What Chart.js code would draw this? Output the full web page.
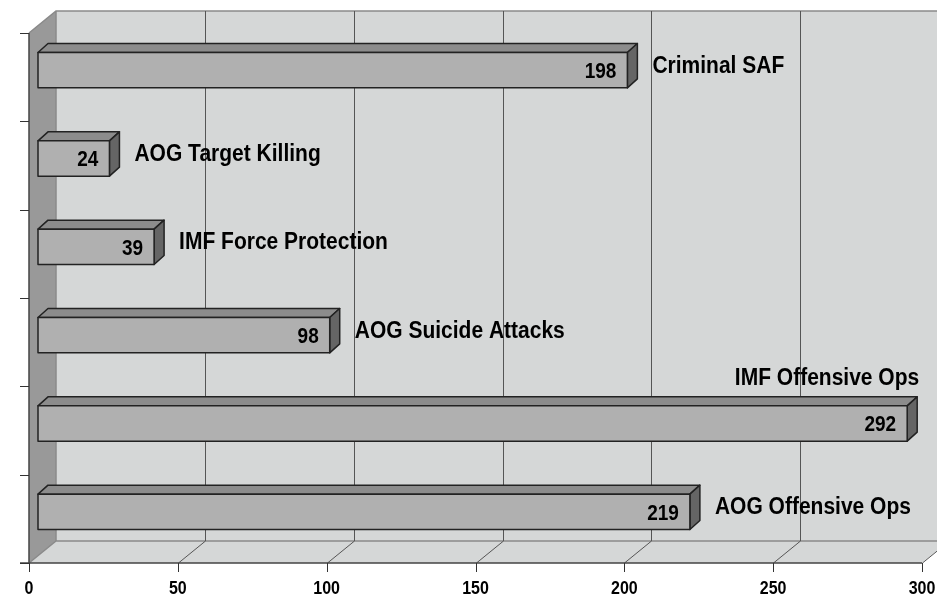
<!DOCTYPE html>
<html>
<head>
<meta charset="utf-8">
<script src="https://cdn.jsdelivr.net/npm/chart.js@4"></script>
<style>
  html, body { margin: 0; padding: 0; background: #fff; }
  canvas { display: block; }
</style>
</head>
<body>
<canvas id="grafico" width="937" height="599"></canvas>
<script>
const categorias = ['Criminal SAF', 'AOG Target Killing', 'IMF Force Protection', 'AOG Suicide Attacks', 'IMF Offensive Ops', 'AOG Offensive Ops'];
const valores = [198, 24, 39, 98, 292, 219];
const ticksX = [0, 50, 100, 150, 200, 250, 300];

// profundidad del "3D"
const DX = 27, DY = -22;      // pared del fondo
const BX = 9, BY = -7;        // cara frontal de la barra
const TX = 10, TY = -9;       // grosor de la barra

const fuente = '"Liberation Sans", Arial, sans-serif';

// texto un poco estirado en vertical, como en el original
function texto(c, s, x, y) {
  c.save();
  c.translate(x, y);
  c.scale(1, 1.12);
  c.fillText(s, 0, 0);
  c.restore();
}

const plugin3D = {
  id: 'efecto3D',
  beforeDatasetsDraw(chart) {
    const c = chart.ctx;
    const a = chart.chartArea;
    const x = chart.scales.x;
    c.save();
    // pared del fondo
    c.fillStyle = '#d5d7d7';
    c.fillRect(a.left + DX, a.top + DY, a.right - a.left, a.bottom - a.top);
    // piso
    c.beginPath();
    c.moveTo(a.left, a.bottom);
    c.lineTo(a.left + DX, a.bottom + DY);
    c.lineTo(a.right + DX, a.bottom + DY);
    c.lineTo(a.right, a.bottom);
    c.closePath();
    c.fill();
    // pared izquierda
    c.fillStyle = '#999999';
    c.beginPath();
    c.moveTo(a.left, a.top);
    c.lineTo(a.left + DX, a.top + DY);
    c.lineTo(a.left + DX, a.bottom + DY);
    c.lineTo(a.left, a.bottom);
    c.closePath();
    c.fill();

    // bordes de las paredes
    c.strokeStyle = '#8a8a8a';
    c.lineWidth = 1.5;
    c.beginPath();
    c.moveTo(a.left + DX, a.top + DY);
    c.lineTo(a.left + DX, a.bottom + DY);
    c.lineTo(a.right + DX, a.bottom + DY);
    c.moveTo(a.left, a.top);
    c.lineTo(a.left + DX, a.top + DY);
    c.lineTo(a.right + DX, a.top + DY);
    c.moveTo(a.left, a.bottom);
    c.lineTo(a.left + DX, a.bottom + DY);
    c.stroke();

    // lineas de division
    c.strokeStyle = '#555';
    c.lineWidth = 1;
    ticksX.forEach(v => {
      if (v === 0) return;
      const px = Math.round(x.getPixelForValue(v)) + 0.5;
      c.beginPath();
      c.moveTo(px + DX, a.top + DY);
      c.lineTo(px + DX, a.bottom + DY);
      c.lineTo(px, a.bottom);
      c.stroke();
    });

    // ejes
    c.strokeStyle = '#444';
    c.lineWidth = 1.5;
    c.beginPath();
    c.moveTo(a.left, a.top);
    c.lineTo(a.left, a.bottom);
    c.moveTo(a.left - 9, a.bottom);
    c.lineTo(a.right, a.bottom);
    c.stroke();
    c.lineWidth = 1;
    c.strokeStyle = '#333';
    c.beginPath();
    // marcas en y (limites de categorias)
    const banda = (a.bottom - a.top) / categorias.length;
    for (let k = 0; k <= categorias.length; k++) {
      const py = Math.round(a.top + k * banda) + 0.5;
      c.moveTo(a.left - 9, py);
      c.lineTo(a.left, py);
    }
    // marcas en x
    ticksX.forEach(v => {
      const px = Math.round(x.getPixelForValue(v)) + 0.5;
      c.moveTo(px, a.bottom);
      c.lineTo(px, a.bottom + 9);
    });
    c.stroke();

    // etiquetas del eje x
    c.fillStyle = '#000';
    c.font = 'bold 16px ' + fuente;
    c.textAlign = 'center';
    c.textBaseline = 'middle';
    ticksX.forEach(v => {
      texto(c, String(v), x.getPixelForValue(v), a.bottom + 26);
    });
    c.restore();
  },
  afterDatasetsDraw(chart) {
    const c = chart.ctx;
    const meta = chart.getDatasetMeta(0);
    c.save();
    c.strokeStyle = '#222';
    c.lineWidth = 1.5;
    c.lineJoin = 'round';
    meta.data.forEach((bar, i) => {
      const x0 = bar.base + BX;
      const x1 = bar.x + BX;
      const y0 = bar.y - bar.height / 2 + BY;
      const y1 = bar.y + bar.height / 2 + BY;
      // cara superior
      c.fillStyle = '#8c8c8c';
      c.beginPath();
      c.moveTo(x0, y0);
      c.lineTo(x0 + TX, y0 + TY);
      c.lineTo(x1 + TX, y0 + TY);
      c.lineTo(x1, y0);
      c.closePath();
      c.fill(); c.stroke();
      // cara lateral
      c.fillStyle = '#656565';
      c.beginPath();
      c.moveTo(x1, y0);
      c.lineTo(x1 + TX, y0 + TY);
      c.lineTo(x1 + TX, y1 + TY);
      c.lineTo(x1, y1);
      c.closePath();
      c.fill(); c.stroke();
      // cara frontal
      c.fillStyle = '#b0b0b0';
      c.fillRect(x0, y0, x1 - x0, y1 - y0);
      c.strokeRect(x0, y0, x1 - x0, y1 - y0);

      // valor
      const ym = (y0 + y1) / 2;
      c.fillStyle = '#000';
      c.textBaseline = 'middle';
      c.font = 'bold 19px ' + fuente;
      c.textAlign = 'right';
      texto(c, String(valores[i]), x1 - 11, ym + 2);

      // nombre de la categoria
      c.font = 'bold 21px ' + fuente;
      const txt = categorias[i];
      const w = c.measureText(txt).width;
      if (x1 + 24 + w > chart.width - 5) {
        c.textAlign = 'right';
        texto(c, txt, x1 + 12, y0 - 27);
      } else {
        c.textAlign = 'left';
        texto(c, txt, x1 + 25, ym - 4);
      }
    });
    c.restore();
  }
};

const ctx = document.getElementById('grafico').getContext('2d');
const grafBar = new Chart(ctx, {
  type: 'bar',
  data: {
    labels: categorias,
    datasets: [{
      data: valores,
      backgroundColor: 'rgba(0,0,0,0)',
      borderWidth: 0,
      categoryPercentage: 1,
      barPercentage: 0.4
    }]
  },
  options: {
    indexAxis: 'y',
    responsive: false,
    animation: false,
    devicePixelRatio: 1,
    layout: { padding: { left: 29, right: 15, top: 33, bottom: 36 } },
    plugins: {
      legend: { display: false },
      tooltip: { enabled: false }
    },
    scales: {
      x: { display: false, min: 0, max: 300 },
      y: { display: false }
    }
  },
  plugins: [plugin3D]
});
</script>
</body>
</html>
